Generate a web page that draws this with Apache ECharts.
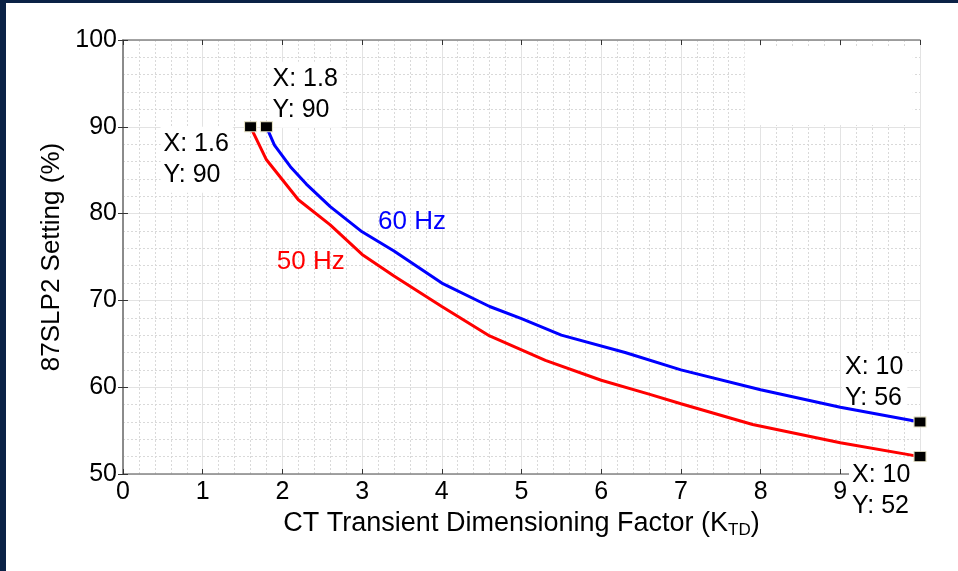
<!DOCTYPE html>
<html>
<head>
<meta charset="utf-8">
<script src="https://cdn.jsdelivr.net/npm/echarts@6/dist/echarts.min.js"></script>
<style>
  html, body { margin: 0; padding: 0; background: #ffffff; }
  #chart { width: 958px; height: 571px; }
</style>
</head>
<body>
<div id="chart"></div>
<script>
// 60 Hz curve: transient dimensioning factor vs. 87SLP2 setting
const kTD60 = [1.8, 1.9, 2.1, 2.3, 2.6, 3, 3.4, 4, 4.6, 5, 5.5, 6.3, 7, 8, 9, 10];
const slp60 = [90, 87.9, 85.4, 83.4, 80.8, 77.9, 75.7, 72, 69.3, 67.9, 66, 64, 62, 59.7, 57.7, 56];

// 50 Hz curve
const kTD50 = [1.6, 1.8, 2.0, 2.2, 2.6, 3, 3.4, 4, 4.6, 5.3, 6, 6.6, 7, 7.9, 9, 10];
const slp50 = [90, 86.2, 83.9, 81.6, 78.7, 75.3, 72.8, 69.3, 65.9, 63.1, 60.8, 59.2, 58.1, 55.7, 53.6, 52];

// Axis ticks
const xTicks = [0, 1, 2, 3, 4, 5, 6, 7, 8, 9, 10];
const yTicks = [50, 60, 70, 80, 90, 100];

const FONT = 'Liberation Sans, Arial, Helvetica, sans-serif';
const gridColor = '#e3e3e3';
const minorColor = '#d9d9d9';
const frameColor = '#858585';

const pairs = (xs, ys) => xs.map((x, i) => [x, ys[i]]);
const line60 = pairs(kTD60, slp60);
const line50 = pairs(kTD50, slp50);

// Data tips at the curve ends (offsets in pixels from the marked point)
const tips = [
  { pt: line50[0], dx: -87, dy: 2, pad: [2, 4, 2, 3] },
  { pt: line60[0], dx: 6, dy: -63, pad: [2, 4, 2, 3] },
  { pt: line60[line60.length - 1], dx: -75, dy: -70, pad: [2, 4, 2, 3] },
  { pt: line50[line50.length - 1], dx: -68, dy: 3, pad: [2, 12, 4, 3] }
];

const frameAxis = {
  axisLine: { show: true, lineStyle: { color: frameColor, width: 1.5 } },
  axisTick: { show: true, inside: true, length: 5, lineStyle: { color: '#333', width: 1 } },
  axisLabel: { show: false },
  splitLine: { show: false }
};

const chart = echarts.init(document.getElementById('chart'), null, { renderer: 'canvas' });

chart.setOption({
  animation: false,
  backgroundColor: '#ffffff',
  grid: { left: 123, top: 40, right: 38, bottom: 97, containLabel: false },
  xAxis: [
    {
      type: 'value', position: 'bottom',
      min: xTicks[0], max: xTicks[xTicks.length - 1], interval: 1,
      axisLine: { show: true, onZero: false, lineStyle: { color: frameColor, width: 1.5 } },
      axisTick: { show: true, inside: true, length: 5, lineStyle: { color: '#333', width: 1 } },
      axisLabel: { color: '#000', fontSize: 25, fontFamily: FONT, margin: 6, showMaxLabel: false },
      splitLine: { show: true, lineStyle: { color: gridColor, width: 1 } },
      minorTick: { show: false, splitNumber: 5 },
      minorSplitLine: { show: true, lineStyle: { color: minorColor, width: 1, type: [2, 2] } },
      name: '{a|CT Transient Dimensioning Factor (K}{s|TD}{a|)}',
      nameLocation: 'middle', nameGap: 35,
      nameTextStyle: {
        color: '#000', fontFamily: FONT, fontSize: 27,
        rich: {
          a: { color: '#000', fontFamily: FONT, fontSize: 27, lineHeight: 30, verticalAlign: 'middle' },
          s: { color: '#000', fontFamily: FONT, fontSize: 17, lineHeight: 17, verticalAlign: 'bottom' }
        }
      }
    },
    Object.assign({
      type: 'value', position: 'top',
      min: xTicks[0], max: xTicks[xTicks.length - 1], interval: 1
    }, frameAxis)
  ],
  yAxis: [
    {
      type: 'value', position: 'left',
      min: yTicks[0], max: yTicks[yTicks.length - 1], interval: 10,
      axisLine: { show: true, onZero: false, lineStyle: { color: frameColor, width: 1.5 } },
      axisTick: { show: true, inside: true, length: 5, lineStyle: { color: '#333', width: 1 } },
      axisLabel: { color: '#000', fontSize: 25, fontFamily: FONT, margin: 6 },
      splitLine: { show: true, lineStyle: { color: gridColor, width: 1 } },
      minorTick: { show: false, splitNumber: 5 },
      minorSplitLine: { show: true, lineStyle: { color: minorColor, width: 1, type: [2, 2] } },
      name: '87SLP2 Setting (%)',
      nameLocation: 'middle', nameGap: 55, nameRotate: 90,
      nameTextStyle: { color: '#000', fontFamily: FONT, fontSize: 26 }
    },
    Object.assign({
      type: 'value', position: 'right',
      min: yTicks[0], max: yTicks[yTicks.length - 1], interval: 10
    }, frameAxis)
  ],
  series: [
    {
      name: '60 Hz', type: 'line', data: line60, showSymbol: false, z: 3,
      lineStyle: { color: '#0000ff', width: 3 }, itemStyle: { color: '#0000ff' }
    },
    {
      name: '50 Hz', type: 'line', data: line50, showSymbol: false, z: 3,
      lineStyle: { color: '#ff0000', width: 3 }, itemStyle: { color: '#ff0000' }
    },
    {
      name: 'tips', type: 'scatter', z: 4,
      data: tips.map(t => t.pt),
      symbol: 'rect', symbolSize: [12, 10],
      itemStyle: { color: '#000', borderColor: '#e4e0c4', borderWidth: 1, opacity: 1 }
    }
  ]
});

// Annotations placed through the chart's own coordinate system
const toPx = p => chart.convertToPixel({ xAxisIndex: 0, yAxisIndex: 0 }, p);
const graphics = [];

// Navy frame strips
graphics.push({ type: 'rect', shape: { x: 0, y: 0, width: 958, height: 3 }, style: { fill: '#0b2246' }, z: 10 });
graphics.push({ type: 'rect', shape: { x: 0, y: 0, width: 6, height: 571 }, style: { fill: '#0b2246' }, z: 10 });

// Blank legend area in the upper right of the axes
const lgA = toPx([7.8, 99.3]);
const lgB = toPx([9.91, 90.2]);
graphics.push({
  type: 'rect', z: 1,
  shape: { x: lgA[0], y: lgA[1], width: lgB[0] - lgA[0], height: lgB[1] - lgA[1] },
  style: { fill: '#ffffff' }
});

// Curve labels
const lab60 = toPx([3.2, 79.05]);
const lab50 = toPx([1.93, 74.5]);
graphics.push({
  type: 'text', z: 5, x: lab60[0], y: lab60[1],
  style: { text: '60 Hz', fill: '#0000ff', font: '26px ' + FONT, align: 'left', verticalAlign: 'middle' }
});
graphics.push({
  type: 'text', z: 5, x: lab50[0], y: lab50[1],
  style: { text: '50 Hz', fill: '#ff0000', font: '26px ' + FONT, align: 'left', verticalAlign: 'middle' }
});

// Data tip text boxes
tips.forEach(t => {
  const p = toPx(t.pt);
  graphics.push({
    type: 'text', z: 2,
    x: p[0] + t.dx - 3, y: p[1] + t.dy - 2,
    style: {
      text: 'X: ' + t.pt[0] + '\nY: ' + t.pt[1],
      fill: '#000', font: '25px ' + FONT, lineHeight: 31,
      align: 'left', verticalAlign: 'top',
      backgroundColor: '#ffffff', padding: t.pad
    }
  });
});

chart.setOption({ graphic: graphics });
</script>
</body>
</html>
